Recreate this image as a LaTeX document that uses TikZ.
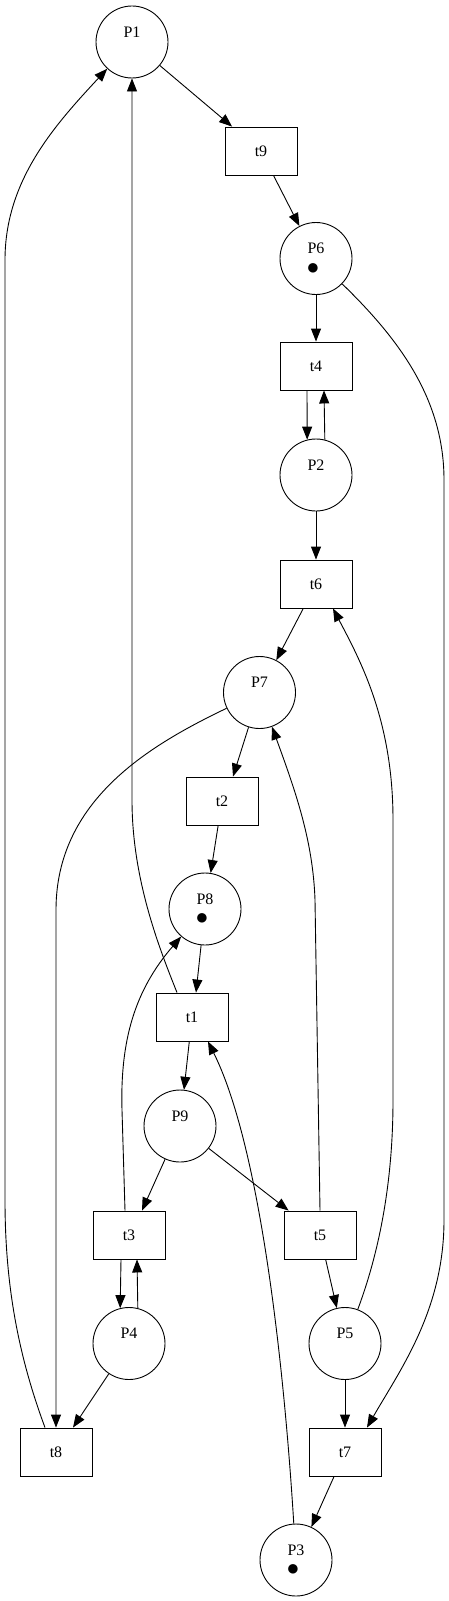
\documentclass[tikz,border=0pt]{standalone}
\usepackage{fontspec}
\setmainfont{Liberation Serif}
\usetikzlibrary{arrows.meta}
\begin{document}
\begin{tikzpicture}[x=1bp,y=-1bp,
  line width=0.9bp,
  place/.style={circle,draw,minimum size=72bp,inner sep=0pt},
  trans/.style={rectangle,draw,minimum width=72bp,minimum height=48bp,inner sep=0pt,font=\fontsize{16bp}{18bp}\selectfont},
  lbl/.style={inner sep=0pt,font=\fontsize{16bp}{18bp}\selectfont},
  tok/.style={inner sep=0pt,font=\fontsize{22bp}{24bp}\selectfont},
  arr/.style={-{Triangle[length=13bp,width=10bp]}}]
\useasboundingbox (0,0) rectangle (449,1601);
% places
\node[place] (P1) at (132,42) {};
\node[place] (P6) at (316,258.5) {};
\node[place] (P2) at (316,475) {};
\node[place] (P7) at (259.5,692.5) {};
\node[place] (P8) at (205,909) {};
\node[place] (P9) at (180,1126) {};
\node[place] (P4) at (129,1343.5) {};
\node[place] (P5) at (345,1343.5) {};
\node[place] (P3) at (296,1560) {};
\foreach \p in {P1,P6,P2,P7,P8,P9,P4,P5,P3}{
  \node[lbl] (\p l) at ([yshift=10bp]\p.center) {\p};
}
\node[tok] (P6tok) at ([xshift=-3bp,yshift=-10.5bp]P6.center) {●};
\node[tok] (P8tok) at ([xshift=-3bp,yshift=-10.5bp]P8.center) {●};
\node[tok] (P3tok) at ([xshift=-3bp,yshift=-10.5bp]P3.center) {●};
% transitions
\node[trans] (t9) at (261,151) {t9};
\node[trans] (t4) at (316,366) {t4};
\node[trans] (t6) at (316,584) {t6};
\node[trans] (t2) at (222,801) {t2};
\node[trans] (t1) at (192,1017) {t1};
\node[trans] (t3) at (129,1235) {t3};
\node[trans] (t5) at (320,1235) {t5};
\node[trans] (t8) at (56,1452) {t8};
\node[trans] (t7) at (345,1452) {t7};
% arcs
\draw[arr] (P1) -- (t9);
\draw[arr] (t9) -- (P6);
\draw[arr] (P6) -- (t4);
\draw[arr] (P6) .. controls (400,340) and (444,400) .. (444,480) -- (444,1220) .. controls (444,1310) and (400,1370) .. ([xshift=22bp]t7.north);
\draw[arr] ([xshift=-9bp]t4.south) -- (P2.104);
\draw[arr] (P2.76) -- ([xshift=8bp]t4.south);
\draw[arr] (P2) -- (t6);
\draw[arr] (t6) -- (P7);
\draw[arr] (P7) -- ([xshift=11bp]t2.north);
\draw[arr] (P7) .. controls (150,745) and (56,800) .. (56,910) -- (t8.north);
\draw[arr] (t2) -- (P8);
\draw[arr] (P8) -- ([xshift=4bp]t1.north);
\draw[arr] ([xshift=-15bp]t1.north) .. controls (160,950) and (132,880) .. (132,800) -- (P1);
\draw[arr] (t1) -- (P9);
\draw[arr] (P9) -- ([xshift=13bp]t3.north);
\draw[arr] (P9) -- (t5);
\draw[arr] ([xshift=-8bp]t3.south) -- (P4.104);
\draw[arr] (P4.76) -- ([xshift=8bp]t3.south);
\draw[arr] ([xshift=-4bp]t3.north) -- (122,1110) .. controls (120,1040) and (135,990) .. (P8);
\draw[arr] (t5.north) -- (315,900) .. controls (313,840) and (295,790) .. (P7);
\draw[arr] (t5) -- (P5);
\draw[arr] (P5) .. controls (380,1250) and (393,1180) .. (393,1100) -- (393,820) .. controls (393,720) and (360,660) .. ([xshift=17bp]t6.south);
\draw[arr] (P5) -- (t7);
\draw[arr] (P4) -- ([xshift=17bp]t8.north);
\draw[arr] ([xshift=-11bp]t8.north) .. controls (20,1360) and (5,1290) .. (5,1200) -- (5,260) .. controls (5,180) and (55,125) .. (P1);
\draw[arr] (t7) -- (P3.65);
\draw[arr] (P3) .. controls (285,1380) and (262,1150) .. ([xshift=16bp]t1.south);
\end{tikzpicture}
\end{document}
